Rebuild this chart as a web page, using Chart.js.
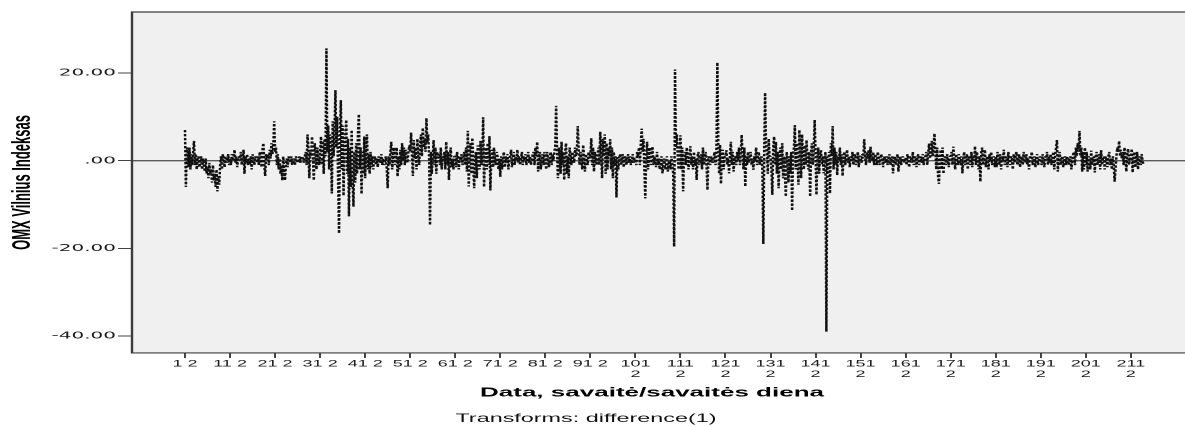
<!DOCTYPE html>
<html>
<head>
<meta charset="utf-8">
<title>OMX Vilnius Indeksas - difference(1)</title>
<script src="https://cdn.jsdelivr.net/npm/chart.js@4.4.1/dist/chart.umd.min.js"></script>
<style>
  html, body { margin: 0; padding: 0; overflow: hidden; background: #fff; }
  #frame { width: 1185px; height: 427px; overflow: hidden; }
  /* the source picture is stretched about 2x sideways, so the canvas is stretched the same way */
  #seqChart { display: block; transform: scaleX(2); transform-origin: 0 0; }
</style>
</head>
<body>
<div id="frame"><canvas id="seqChart" width="596" height="427"></canvas></div>
<script>

// observations are trading days, 5 per week; obs 0 (week 1 day 1) is lost to differencing
var daysPerWeek = 5;
var tickDay = 2;
var weekTicks = [1, 11, 21, 31, 41, 51, 61, 71, 81, 91, 101, 111, 121, 131, 141, 151, 161, 171, 181, 191, 201, 211];

var yTicks = [-40, -20, 0, 20];
var yTickText = ['-40.00', '-20.00', '.00', '20.00'];
var yRange = [-43.86, 33.91];
var xRange = [-57.84, 1096.7];

// OMX Vilnius index, first difference (one line per 10 weeks)
var diffValues = [
	7, -6, 3, 2.5, -1.5, 3, -2, 1.5, -1, 2, 4.5, -1, 1.5, -2, 0.5, 1, -1.5, -0.5, 1, -2, 0.5, -1, -2.5, 0.5, -3, -1.5, -4, -0.5, -3, -2, -5, -1, -4.5, -3, -6, -2, -7, -3.5, -5.5, -1, 1, -2, 1.5, 0, -1.5, 1, 0.5, -0.5, 1.5, -1,
	0.5, -1, 1.5, 0, 1, 2.5, -0.5, 1, -1.5, 0.5, 1, 0, 2, -1, 0.5, 2.5, -3, 1, -0.5, 1.5, -1, 0.5, -1, 1, -2, 1.5, 0, -1, 1, 0.5, -0.5, 1, -1, 2, 0.5, -1.5, 2.5, 4, -1, -3.5, 1.5, 0.5, 1.5, -1, 2.5, 0.5, 4, 1.5, 3, 9,
	2, 3, -1, 1.5, -2, 0.5, -3, -1, -4.5, 1, -2, -4.5, -1, 0.5, -1.5, 1, 0, -0.5, 1, -1, 0.5, 0, -1, 1, 0.5, -0.5, 0, 1, -0.5, 0.5, 1, 0.5, -0.5, 1, 2, -1, 6, 3, -4, 2.5, 1, 5.5, 1, -4.5, 4, 2, -2, 3, 1, -1,
	2, 5.5, -1, 4.5, -3, 5, 1, 25.6, 2, 8, -2, 6, 3, -7.5, 9, 1, 7, 16.1, 3, 10, -5, -16.6, 5, 13.8, -2, 8, -8, 4, 6, 9.3, -3, 5, -12.7, 3, -6, 7, -4, -10.5, 2, -5, 4, -3, 6, 10.6, -2, 3, -7.6, 2, -3, 5.5,
	-4, 3, 6, -2, 1.5, -3, 2, -1.5, 1, -2, 0.5, 1, -1, 0.5, -1.5, 1, 0, -0.5, 1.5, -1, 0.5, -1, 0, 1, -2, -6.3, 1, -1, 2, 4.3, -2, 1, 3, -1, 0.5, 3, -3.6, 1, -2, 2.5, -1, 4, 0, 3, -1, 2.5, 1, -0.5, 2, 3.5,
	2, 6.4, 1, -3.5, 4.7, 0.5, 3, -2, 5, 1, -1, 4, 6, 1, 7.5, 3, 5, 2, 9.7, 4, 6, 1, -14.7, 2, -3, 1, 4.7, -1, 3, -3, 2, 0.5, 1.5, -1, 3, -2, 1, 0, 2, -2, 4.3, -1, 2, -4.4, 1, 3, -1.5, 0.5, -2, 1,
	1, -1.5, 2, 0.5, -2, 1, 0, 1.5, -1, 0.5, 2, -1, 3, -2.5, 6.8, -5.9, 2, 4, -3, 5.2, -1, -6.3, 1, 2, -4, 3.5, 0, -2, 4.5, -1, 1, 9.9, -6, 2, 3, -2, 4, -1, 5.6, -6.8, 1, 2.5, -1.5, 3, 0.5, -1, 2, 1, -2, 0.5,
	-3.7, 1, -2, 0.5, 2, -1.5, 1, -0.5, 1.5, -2, 0.5, 1, 2.5, -1.5, 0.5, 2, -1, 1, 0, 2.5, -0.5, 1, -1, 0.5, 2, -1, 1, 0, 1.5, -1, 0.5, 2, -0.5, 1, -1, 0, 1.5, 2, -1, 3, 1, 4.3, -2.5, 1, 2, -2, 0.5, 1.5, -1, 2,
	1, -2, 2, 0.5, -1.5, 1, 2, -1, 1.5, 0, 2, 3, 12.5, 2, -4, 3, 1, -3, 4.3, -1, 2, -4.4, 2, 4, -3, 1, -4, 3, 1, -1, 2, 0.5, -0.5, 3, 1, 2, 7.9, 3, -1, 2, 0.5, -2, 3.6, 1, -2.5, 1.5, 0, -1, 2, 0.5,
	1, 5.1, -1, 3, -2.5, 2, 0.5, -1, 1.5, 3, -1, 6.6, 2, -4, 5, 1, 6, -3, 4, -2, 3, 1, 4.9, -2, 3, -4, 2, -1, 1, -8.4, 1, -2, 0.5, 1.5, -1, 0, 1.5, -1.5, 0.5, 1, -1, 0.5, 1.5, -0.5, 1, -1, 0, 1.5, -0.5, 0.5,
	0.5, -1, 2, 1, 3, -1, 4, 7.3, 2, 5, -2, -8.6, 1, 4.3, -2, 2, 3, -1, 2, 3.2, -1, 1, 0, -1.5, 2, -1, 0.5, -2, -1, 1, -2.9, -1, 0.5, -2, -1.5, 1, -2.5, -0.5, 0, -2, 1, -1, -3, -19.6, 20.8, 3, 6, 1, -2, 2,
	5.8, -2, 3, -7, 1, 2, -1, 3, 0.5, -2, 1, 3.3, -1, 1, -2, 2, -1, 0.5, -4.4, 1, 2, -1, 0.5, 1.5, -2, 3, -1, 0.5, 2, -1, -6.7, 1, 0.5, -1, 1, 0, -0.5, 1, 2, -1, 3, 22.4, 4, -3, 3.6, -5.3, 1, 2.5, -2, 1,
	1, 2.4, -1, 0.5, -2.9, 1.5, 4.3, -1, 2, -2.5, 0.5, 1, -1, 2, 0, 3, -1, 2, 5.9, 1, -2, 3, -5.9, 1, -1, 2, -0.5, 1, 2, -1, 0.5, -2.1, 1, 0, 3, -1, 1, 2, -1, 0.5, 1, -2, -19, 2, 15.5, 4, 2, -3, 5, 1,
	1, -2, -7.8, 3, 5.5, -1, 4.3, -3, 2, -6.3, 1, 3, -2, 4, -4, 1, -3, -8.2, 2, -1, -5, 1, -3, 2, -11.4, 1, 3, 8.1, -2, 4, 1, -5.5, 7, 2, -4, 6, 1, -2, 3.5, -1, 4.7, 0.5, -2, 2, -8.2, 2, 4, -1, 3, 9.3,
	2, -7.8, 1, 3, -3, 1.5, 2.4, -1, 1, -2.9, 0.5, 2, -39, 1, -3, 2, -7.5, 4, 1, 7.9, -2, 3, -1, 2, -3.3, 1, 0, 3, -1, 1.5, -3.5, 0.5, 2, -1, 1, 2.5, -0.5, 1, -1.5, 1, 0, 2, -1, 0.5, 1.5, -1, 0.5, 2, -1.5, 1,
	1, -0.5, 1.5, 0.5, 4.9, 1, -1, 2, 0.5, 2.5, -0.5, 3.2, 1, 0, 2, -1, 1.5, 0.5, -1, 2, 1, -1, 0.5, 1.5, 0, -1.5, 1, 0.5, -0.5, 1, -1, 0.5, 1.5, -1, 0, 1, -2.9, 0.5, 1, -1, 0.5, 1.5, -2.5, 0, 1, -1, 0.5, 1, -0.5, 0.5,
	0.5, -1, 1.5, 0, -1.5, 1, 0.5, -0.5, 2, -1, 0.5, 1, -1.5, 0.5, 1.5, -1, 0, 1, -0.5, 1.5, -1, 0.5, 1, 2, -1, 1.5, 3.9, 0.5, 2, 4.5, 1, 3, 6.2, 2, -2, 3, -3.5, -5.3, 1, 2.5, -2, 3, -3, 1, 0.5, -1, 1.5, 0, -1.5, 1,
	1, 2, -1, 3.2, 0.5, -2, 1.5, 0, -1, 1.5, 0.5, -1, 1, -2.9, 0.5, 2, -1, 0, 1.5, -2, 1, 0.5, -1, 2, -1.5, 1, 0, 3.3, -1, 2, 1, -2, 1, -4.8, 2, 3, -1, 1, 2.5, -1.5, 0.5, 1, -2, 1.5, 0, 2, -1, 0.5, 1, -1.5,
	1, -1.5, 2, 0.5, -1, 1.5, -2, 1, 0, 2.5, -1, 0.5, 1, -1.5, 2, 0, -1, 1, 0.5, -2, 1.5, -0.5, 1, 2, -1, 0, 1.5, -1.5, 0.5, 1, -1, 2, 0, -0.5, 1.5, -1, 0.5, -2, 1, 0.5, 2, -1, 0, 1, -1.5, 0.5, 1.5, -1, 0, 1,
	0.5, -1, 1.5, 0, -1.5, 1, 0.5, 2, -1, 1, -0.5, 1.5, -1, 0.5, 2, -2, 1, 3, 4.7, -2.5, 1, 2, -1, 0.5, 1, -1.5, 0, 1, -1, 1, 0.5, -1, 0.5, 1, -2, 0, 1.5, 2, -1, 3, 1, 4, 2, 6.8, 1, 3, -2.5, 2, -2, 3,
	-1, 2, -2.5, 1, 0.5, -2, 2.3, -1, 0.5, 1, -2.7, 1, 2, -1, 0, 1.5, -2, 2.4, -1, 0.5, 1, -2, 1, 0, -1.5, 1, 2, -1, 0.5, -2, 1, -1, -4.8, -2, 1, 3, 2, 4.5, 1, 2.5, 0.5, 2, -1, 3, 1, -2.5, 1.5, 2.7, -1, 0.5,
	1, 2.7, -2.7, 1, 2, -1.5, 0.5, 2, -2, 1, 0.5, -1, 1.5, 0, -1
];

var fontFamily = "'Liberation Sans', Arial, sans-serif";

var tickObs = weekTicks.map(w => (w - 1) * daysPerWeek + tickDay - 1);
var tickText = weekTicks.map(w => w < 100 ? w + ' ' + tickDay : [String(w), String(tickDay)]);
var points = diffValues.map((v, k) => ({x: k + 1, y: v}));

// grey plot area, frame open on the right, and the reference line at 0
var plotFrame = {
	id: 'plotFrame',
	beforeDraw(chart) {
		var ctx = chart.ctx, a = chart.chartArea;
		ctx.save();
		ctx.fillStyle = '#f0f0f0';
		ctx.fillRect(a.left, a.top, chart.width - a.left, a.bottom - a.top);
		ctx.restore();
	},
	beforeDatasetsDraw(chart) {
		var ctx = chart.ctx, a = chart.chartArea;
		var y0 = chart.scales.y.getPixelForValue(0);
		ctx.save();
		ctx.strokeStyle = '#5a5a5a';
		ctx.lineWidth = 1.3;
		ctx.beginPath();
		ctx.moveTo(a.left, y0);
		ctx.lineTo(chart.width, y0);
		ctx.stroke();
		ctx.strokeStyle = '#3c3c3c';
		ctx.lineWidth = 1.2;
		ctx.beginPath();
		ctx.moveTo(chart.width, a.top);
		ctx.lineTo(a.left, a.top);
		ctx.lineTo(a.left, a.bottom);
		ctx.lineTo(chart.width, a.bottom);
		ctx.stroke();
		ctx.restore();
	}
};

new Chart(document.getElementById('seqChart'), {
	type: 'line',
	data: {
		datasets: [{
			data: points,
			borderColor: '#111',
			borderWidth: 1.25,
			borderDash: [2.4, 1.6],
			borderJoinStyle: 'bevel',
			pointRadius: 0,
			tension: 0,
			fill: false
		}]
	},
	options: {
		responsive: false,
		devicePixelRatio: 2,
		animation: false,
		events: [],
		layout: { padding: { left: 0, right: 10, top: 12, bottom: 0 } },
		plugins: {
			legend: { display: false },
			tooltip: { enabled: false },
			subtitle: {
				display: true,
				position: 'bottom',
				text: 'Transforms: difference(1)',
				color: '#111',
				font: { family: fontFamily, size: 11.7, weight: 'normal' },
				padding: { top: 6, bottom: 1 }
			}
		},
		scales: {
			x: {
				type: 'linear',
				min: xRange[0],
				max: xRange[1],
				afterBuildTicks: s => { s.ticks = tickObs.map(v => ({value: v})); },
				afterFit: s => { s.height = 53; },
				border: { display: false },
				grid: { display: true, drawOnChartArea: false, drawTicks: true, tickLength: 5, tickColor: '#444', tickWidth: 1 },
				ticks: {
					autoSkip: false,
					maxRotation: 0,
					minRotation: 0,
					padding: 0.8,
					color: '#1a1a1a',
					font: { family: fontFamily, size: 9, lineHeight: 1.15 },
					callback: (v, i) => tickText[i]
				},
				title: {
					display: true,
					text: 'Data, savaitė/savaitės diena',
					color: '#000',
					font: { family: fontFamily, size: 13, weight: 'bold' },
					padding: { top: 0, bottom: 5.2 }
				}
			},
			y: {
				min: yRange[0],
				max: yRange[1],
				afterBuildTicks: s => { s.ticks = yTicks.map(v => ({value: v})); },
				afterFit: s => { s.width = 66; },
				border: { display: false },
				grid: { display: true, drawOnChartArea: false, drawTicks: true, tickLength: 7, tickColor: '#444', tickWidth: 1 },
				ticks: {
					padding: 1,
					color: '#1a1a1a',
					font: { family: "'DejaVu Sans', sans-serif", size: 10 },
					callback: (v, i) => yTickText[i]
				},
				title: {
					display: true,
					text: 'OMX Vilnius Indeksas',
					color: '#000',
					font: { family: fontFamily, size: 13, weight: 'bold' },
					padding: { top: 3.4, bottom: 0 }
				}
			}
		}
	},
	plugins: [plotFrame]
});
</script>
</body>
</html>
